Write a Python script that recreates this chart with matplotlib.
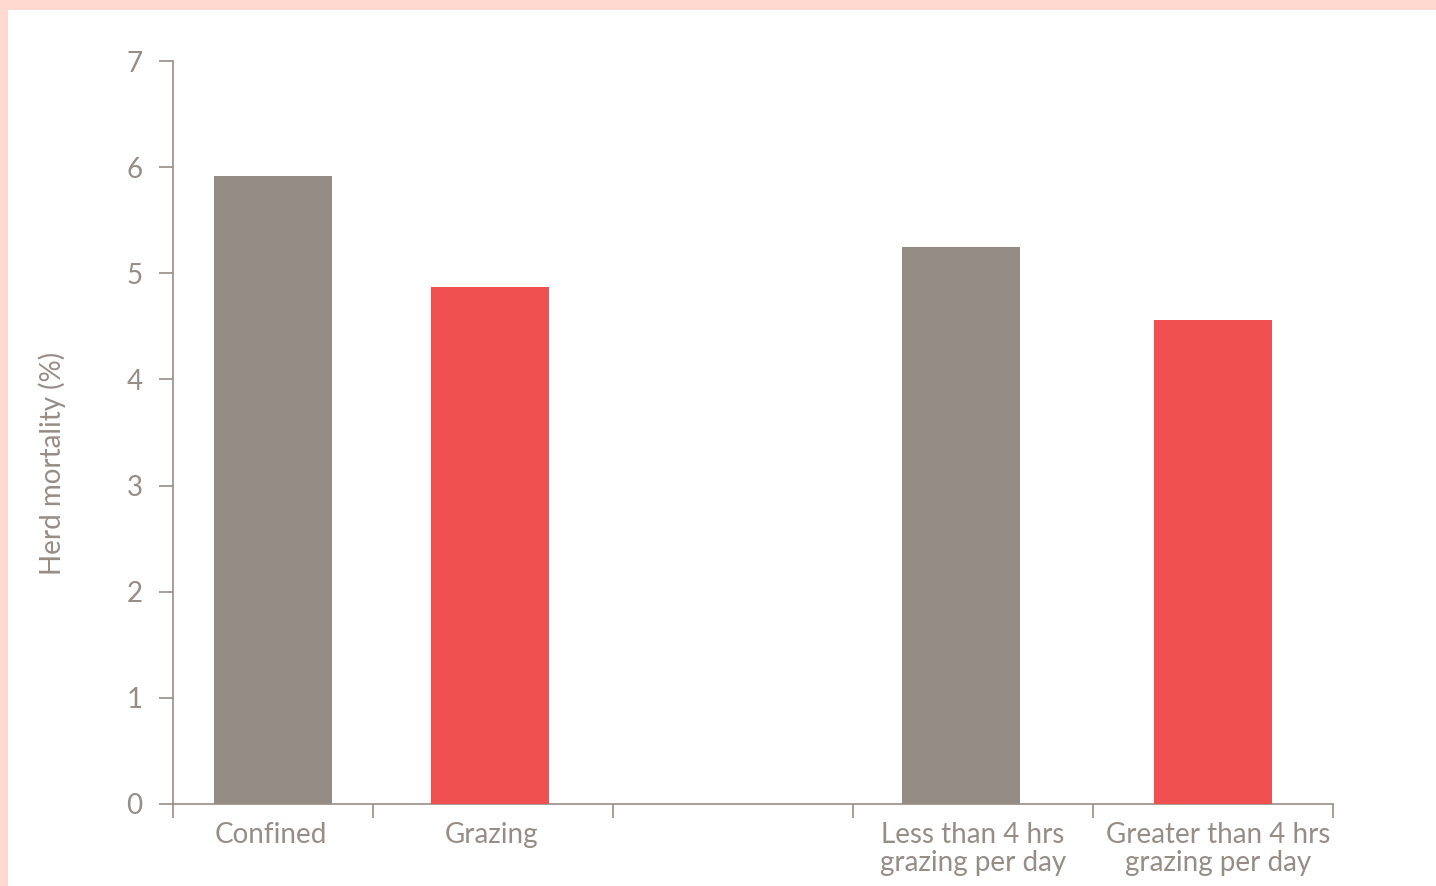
import matplotlib.pyplot as plt
from matplotlib.patches import Rectangle

PINK = '#FFD9D0'
GREY_BAR = '#958B85'
RED_BAR = '#F05150'
TEXT = '#968D87'

# data
categories = ['Confined', 'Grazing', 'Less than 4 hrs\ngrazing per day',
              'Greater than 4 hrs\ngrazing per day']
mortality = [5.92, 4.87, 5.25, 4.56]
bar_colors = [GREY_BAR, RED_BAR, GREY_BAR, RED_BAR]
y_ticks = [0, 1, 2, 3, 4, 5, 6, 7]

# layout (axis units, roughly pixel-scaled)
slot_edges = [0, 200, 440, 680, 920, 1160]
bar_x = [100, 317, 788, 1040]
label_x = [98, 318, 800, 1045]
bar_w = 118

plt.rcParams['font.family'] = ['Lato', 'DejaVu Sans']

fig = plt.figure(figsize=(14.36, 8.86), dpi=100, facecolor=PINK)
# white panel, pink strip left and top only
fig.patches.append(Rectangle((8 / 1436, 0), 1, 1 - 10 / 886,
                             transform=fig.transFigure, facecolor='white',
                             edgecolor='none', zorder=-10))

ax = fig.add_axes([173 / 1436, 82 / 886, 1160 / 1436, 743 / 886])
ax.set_zorder(1)
ax.set_facecolor('none')
ax.bar(bar_x, mortality, width=bar_w, color=bar_colors, zorder=3)

ax.set_xlim(slot_edges[0], slot_edges[-1])
ax.set_ylim(0, 7)
ax.set_yticks(y_ticks)
ax.set_xticks(slot_edges)
ax.set_xticklabels([])
ax.set_xticks(label_x, minor=True)
ax.set_xticklabels(categories, minor=True)

ax.tick_params(axis='y', colors=TEXT, labelsize=20, length=10, width=1.2,
               pad=12, labelcolor=TEXT)
ax.tick_params(axis='x', which='major', colors=TEXT, length=10, width=1.2)
ax.tick_params(axis='x', which='minor', length=0, pad=13, labelsize=20,
               labelcolor=TEXT)
for t in ax.get_xticklabels(minor=True):
    t.set_linespacing(1.08)
    t.set_verticalalignment('top')

for s in ['top', 'right']:
    ax.spines[s].set_visible(False)
for s in ['left', 'bottom']:
    ax.spines[s].set_color(TEXT)
    ax.spines[s].set_linewidth(1.2)

fig.text(52 / 1436, 1 - 463 / 886, 'Herd mortality (%)', rotation=90,
         ha='center', va='center', fontsize=20, color=TEXT)

fig.savefig('out.png', dpi=100, facecolor=PINK)
